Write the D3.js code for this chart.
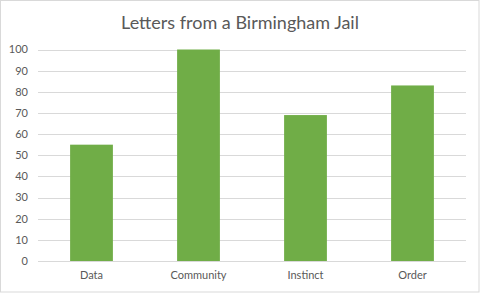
<!DOCTYPE html>
<html>
<head>
<meta charset="utf-8">
<script src="https://cdn.jsdelivr.net/npm/d3@7"></script>
<style>
  html, body { margin: 0; padding: 0; background: #fff; }
</style>
</head>
<body>
<svg id="viz"></svg>
<script>
const categories = ["Data", "Community", "Instinct", "Order"];
const values = [55, 100, 69, 83];
const yTicks = [0, 10, 20, 30, 40, 50, 60, 70, 80, 90, 100];
const title = "Letters from a Birmingham Jail";

const width = 480;
const height = 293;
const margin = { top: 49.5, right: 14, bottom: 32, left: 38 };
const font = "Lato, 'Open Sans', sans-serif";

const svg = d3.select("#viz")
  .attr("width", width)
  .attr("height", height);

// --- background + frame ---
svg.append("rect")
  .attr("x", 0.5)
  .attr("y", 0.5)
  .attr("width", width - 1.5)
  .attr("height", height - 1.5)
  .attr("fill", "#fff")
  .attr("stroke", "#d9d9d9");

const x = d3.scaleBand()
  .domain(categories)
  .range([margin.left, width - margin.right])
  .paddingInner(0.6)
  .paddingOuter(0.3);

const y = d3.scaleLinear()
  .domain([0, 100])
  .range([height - margin.bottom, margin.top]);

// --- gridlines ---
svg.append("g")
  .selectAll("line")
  .data(yTicks)
  .join("line")
  .attr("x1", margin.left)
  .attr("x2", width - margin.right)
  .attr("y1", d => Math.round(y(d)) + 0.5)
  .attr("y2", d => Math.round(y(d)) + 0.5)
  .attr("stroke", "#d9d9d9")
  .attr("stroke-width", 1);

// --- y labels ---
svg.append("g")
  .selectAll("text")
  .data(yTicks)
  .join("text")
  .attr("x", 28)
  .attr("y", d => y(d))
  .attr("dy", "0.35em")
  .attr("text-anchor", "end")
  .attr("font-family", font)
  .attr("font-size", "11px")
  .attr("fill", "#595959")
  .text(d => d);

// --- bars ---
svg.append("g")
  .selectAll("rect")
  .data(values)
  .join("rect")
  .attr("x", (d, i) => x(categories[i]))
  .attr("y", d => y(d))
  .attr("width", x.bandwidth())
  .attr("height", d => y(0) - y(d))
  .attr("fill", "#70ad47");

// --- x labels ---
svg.append("g")
  .selectAll("text")
  .data(categories)
  .join("text")
  .attr("x", d => x(d) + x.bandwidth() / 2)
  .attr("y", 279)
  .attr("text-anchor", "middle")
  .attr("font-family", font)
  .attr("font-size", "11px")
  .attr("fill", "#595959")
  .text(d => d);

// --- title ---
svg.append("text")
  .attr("x", 240)
  .attr("y", 29)
  .attr("text-anchor", "middle")
  .attr("font-family", font)
  .attr("font-size", "18px")
  .attr("fill", "#595959")
  .text(title);
</script>
</body>
</html>
